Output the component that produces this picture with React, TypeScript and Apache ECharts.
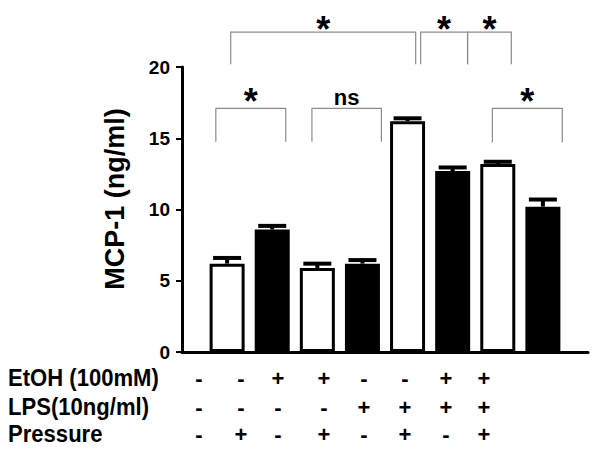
import React, { useEffect, useRef } from "react";
import * as echarts from "echarts";

// ---- data ----
const barPositions = [1, 2, 3, 4, 5, 6, 7, 8];
const means = [6.2, 8.6, 5.9, 6.2, 16.2, 12.7, 13.2, 10.2];
const sems = [0.4, 0.25, 0.3, 0.25, 0.2, 0.25, 0.15, 0.5];
const filled = [false, true, false, true, false, true, false, true];

const etoh = ["-", "-", "+", "+", "-", "-", "+", "+"];
const lps = ["-", "-", "-", "-", "+", "+", "+", "+"];
const pressure = ["-", "+", "-", "+", "-", "+", "-", "+"];
const rowNames = ["EtOH (100mM)", "LPS(10ng/ml)", "Pressure"];

const bracketStart = [0.75, 2.88, 1.08, 5.29, 6.33, 6.88];
const bracketEnd = [2.3, 4.42, 5.18, 6.33, 7.3, 8.43];
const bracketTop = [17.1, 17.1, 22.45, 22.45, 22.45, 17.1];
const bracketBottom = [14.75, 14.75, 20.2, 20.2, 20.2, 14.7];
const bracketLabel = ["*", "ns", "*", "*", "*", "*"];

const yTicks = [0, 5, 10, 15, 20];

// ---- layout ----
const FONT = "'Liberation Sans', Arial, sans-serif";
const colX = [199, 241, 278, 324, 364, 405, 446, 484];
const rowY = [378, 407, 434];

export default function App() {
  const ref = useRef<HTMLDivElement>(null);
  useEffect(() => {
    if (!ref.current) return;
    const chart = echarts.init(ref.current, null, { renderer: "svg" });

    const rows = [etoh, lps, pressure];
    const graphics: any[] = [];
    rows.forEach((row, r) => {
      graphics.push({
        type: "text",
        x: 8,
        y: rowY[r],
        scaleX: 0.92,
        style: {
          text: rowNames[r],
          font: `bold 24px ${FONT}`,
          fill: "#000",
          textAlign: "left",
          textVerticalAlign: "middle",
        },
      });
      row.forEach((s, i) => {
        graphics.push({
          type: "text",
          x: colX[i],
          y: rowY[r],
          style: {
            text: s,
            font: `bold 22px ${FONT}`,
            fill: "#000",
            textAlign: "center",
            textVerticalAlign: "middle",
          },
        });
      });
    });
    graphics.push({
      type: "text",
      x: 115,
      y: 199,
      rotation: Math.PI / 2,
      style: {
        text: "MCP-1 (ng/ml)",
        font: `bold 27px ${FONT}`,
        fill: "#000",
        textAlign: "center",
        textVerticalAlign: "middle",
      },
    });

    const option: any = {
      animation: false,
      backgroundColor: "#fff",
      grid: { left: 182, right: 12, top: 67, bottom: 104 },
      xAxis: {
        type: "value",
        min: 0,
        max: 9,
        axisLine: { show: true, lineStyle: { color: "#000", width: 3 } },
        axisTick: { show: false },
        axisLabel: { show: false },
        splitLine: { show: false },
      },
      yAxis: {
        type: "value",
        min: 0,
        max: 20,
        interval: 5,
        axisLine: { show: true, lineStyle: { color: "#000", width: 3 } },
        axisTick: { show: true, length: 6, lineStyle: { color: "#000", width: 2 } },
        axisLabel: {
          margin: 12,
          fontSize: 19,
          fontWeight: "bold",
          fontFamily: FONT,
          color: "#000",
          formatter: (v: number) => (yTicks.includes(v) ? String(v) : ""),
        },
        splitLine: { show: false },
      },
      graphic: graphics,
      series: [
        {
          type: "bar",
          barWidth: 35,
          data: barPositions.map((x, i) => ({
            value: [x, means[i]],
            itemStyle: {
              color: filled[i] ? "#000" : "#fff",
              borderColor: "#000",
              borderWidth: 3,
            },
          })),
          z: 2,
        },
        {
          type: "custom",
          z: 3,
          data: barPositions.map((x, i) => [x, means[i], sems[i]]),
          renderItem: (params: any, api: any) => {
            const x = api.value(0);
            const m = api.value(1);
            const e = api.value(2);
            const p0 = api.coord([x, m]);
            const p1 = api.coord([x, m + e]);
            return {
              type: "group",
              children: [
                {
                  type: "line",
                  shape: { x1: p0[0], y1: p0[1], x2: p1[0], y2: p1[1] },
                  style: { stroke: "#000", lineWidth: 4 },
                },
                {
                  type: "line",
                  shape: { x1: p1[0] - 14, y1: p1[1], x2: p1[0] + 14, y2: p1[1] },
                  style: { stroke: "#000", lineWidth: 4 },
                },
              ],
            };
          },
        },
        {
          type: "custom",
          clip: false,
          z: 4,
          data: bracketStart.map((s, i) => [s, bracketEnd[i], bracketTop[i], bracketBottom[i], i]),
          renderItem: (params: any, api: any) => {
            const x1 = api.value(0);
            const x2 = api.value(1);
            const yt = api.value(2);
            const yb = api.value(3);
            const idx = api.value(4);
            const a = api.coord([x1, yt]);
            const b = api.coord([x2, yb]);
            const st = { stroke: "#8c8c8c", lineWidth: 1.2 };
            const label = bracketLabel[idx];
            const isStar = label === "*";
            const high = yt > 20;
            return {
              type: "group",
              children: [
                { type: "polyline", shape: { points: [[a[0], b[1]], [a[0], a[1]], [b[0], a[1]], [b[0], b[1]]] }, style: { ...st, fill: "none" } },
                {
                  type: "text",
                  x: (a[0] + b[0]) / 2,
                  y: isStar ? a[1] - (high ? 3 : 7) : a[1] - 11,
                  style: {
                    text: label,
                    font: isStar ? `bold 36px ${FONT}` : `bold 22px ${FONT}`,
                    fill: "#000",
                    textAlign: "center",
                    textVerticalAlign: "middle",
                  },
                },
              ],
            };
          },
        },
      ],
    };
    chart.setOption(option);
    return () => chart.dispose();
  }, []);
  return <div ref={ref} style={{ position: "absolute", left: 0, top: 0, width: 600, height: 456 }} />;
}
